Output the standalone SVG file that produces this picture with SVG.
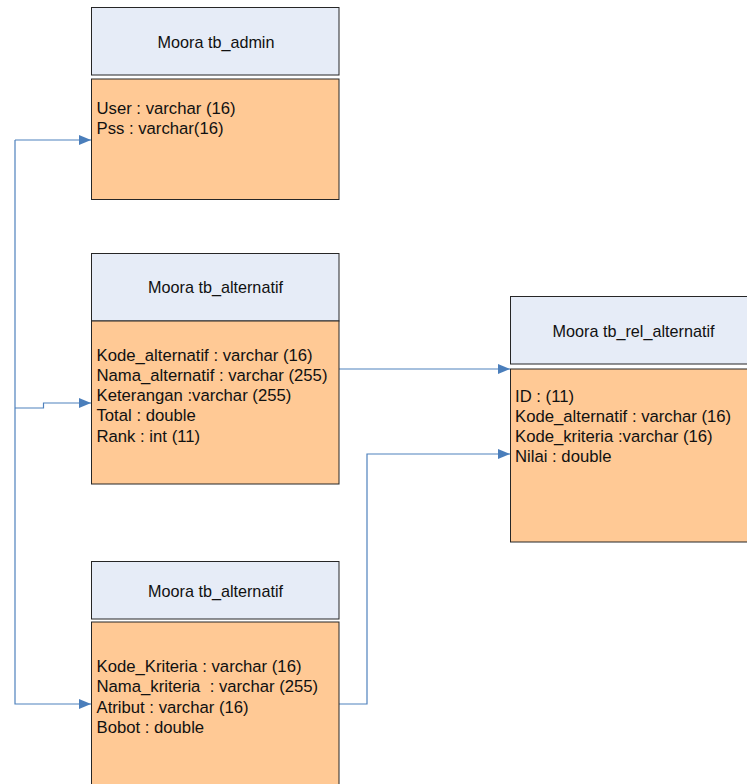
<svg xmlns="http://www.w3.org/2000/svg" width="747" height="784" viewBox="0 0 747 784">
<defs>
<style>
.hd{fill:#E6ECF7;stroke:#262626;stroke-width:1}
.bd{fill:#FFC995;stroke:#262626;stroke-width:1}
.t{font-family:"Liberation Sans",Arial,sans-serif;font-size:16.7px;fill:#111;white-space:pre}
.c{text-anchor:middle;font-size:16.2px}
.ln{fill:none;stroke:#4F81BD;stroke-width:1.2}
</style>
<marker id="ah" viewBox="0 0 12 10" refX="12" refY="5" markerWidth="12" markerHeight="10" markerUnits="userSpaceOnUse" orient="auto">
<path d="M0,0 L12,5 L0,10 Z" fill="#4A7EBB"/>
</marker>
</defs>
<rect width="747" height="784" fill="#fff"/>
<g id="connectors">
<path class="ln" d="M15,140 V704 H91" marker-end="url(#ah)"/>
<path class="ln" d="M15,140 H91" marker-end="url(#ah)"/>
<path class="ln" d="M15,408 H43.5 V403 H91" marker-end="url(#ah)"/>
<path class="ln" d="M339,369 H510" marker-end="url(#ah)"/>
<path class="ln" d="M339,704 H367 V454 H510" marker-end="url(#ah)"/>
</g>
<g id="tb_admin">
<rect class="hd" x="91.5" y="7.5" width="247.5" height="67.5"/>
<rect class="bd" x="91.5" y="79" width="247.5" height="120.5"/>
<text class="t c" x="216" y="48.3">Moora tb_admin</text>
<text class="t" x="96.5" y="114.3">User : varchar (16)</text>
<text class="t" x="96.5" y="134.3">Pss : varchar(16)</text>
</g>
<g id="tb_alternatif">
<rect class="hd" x="91.5" y="253.5" width="247.5" height="67.5"/>
<rect class="bd" x="91.5" y="321" width="247.5" height="163"/>
<text class="t c" x="215.5" y="293">Moora tb_alternatif</text>
<text class="t" x="96.5" y="360.7">Kode_alternatif : varchar (16)</text>
<text class="t" x="96.5" y="380.9">Nama_alternatif : varchar (255)</text>
<text class="t" x="96.5" y="401.1">Keterangan :varchar (255)</text>
<text class="t" x="96.5" y="421.3">Total : double</text>
<text class="t" x="96.5" y="441.5">Rank : int (11)</text>
</g>
<g id="tb_kriteria">
<rect class="hd" x="91.5" y="561.5" width="247.5" height="57.5"/>
<rect class="bd" x="91.5" y="622" width="247.5" height="170"/>
<text class="t c" x="215.5" y="596.5">Moora tb_alternatif</text>
<text class="t" x="96.5" y="672">Kode_Kriteria : varchar (16)</text>
<text class="t" x="96.5" y="692.3" xml:space="preserve">Nama_kriteria  : varchar (255)</text>
<text class="t" x="96.5" y="712.6">Atribut : varchar (16)</text>
<text class="t" x="96.5" y="732.9">Bobot : double</text>
</g>
<g id="tb_rel_alternatif">
<rect class="hd" x="510.5" y="296.5" width="247.5" height="67.5"/>
<rect class="bd" x="510.5" y="369" width="247.5" height="173"/>
<text class="t c" x="633.5" y="336.5">Moora tb_rel_alternatif</text>
<text class="t" x="515" y="401.7">ID : (11)</text>
<text class="t" x="515" y="421.9">Kode_alternatif : varchar (16)</text>
<text class="t" x="515" y="442.1">Kode_kriteria :varchar (16)</text>
<text class="t" x="515" y="462.3">Nilai : double</text>
</g>
</svg>
